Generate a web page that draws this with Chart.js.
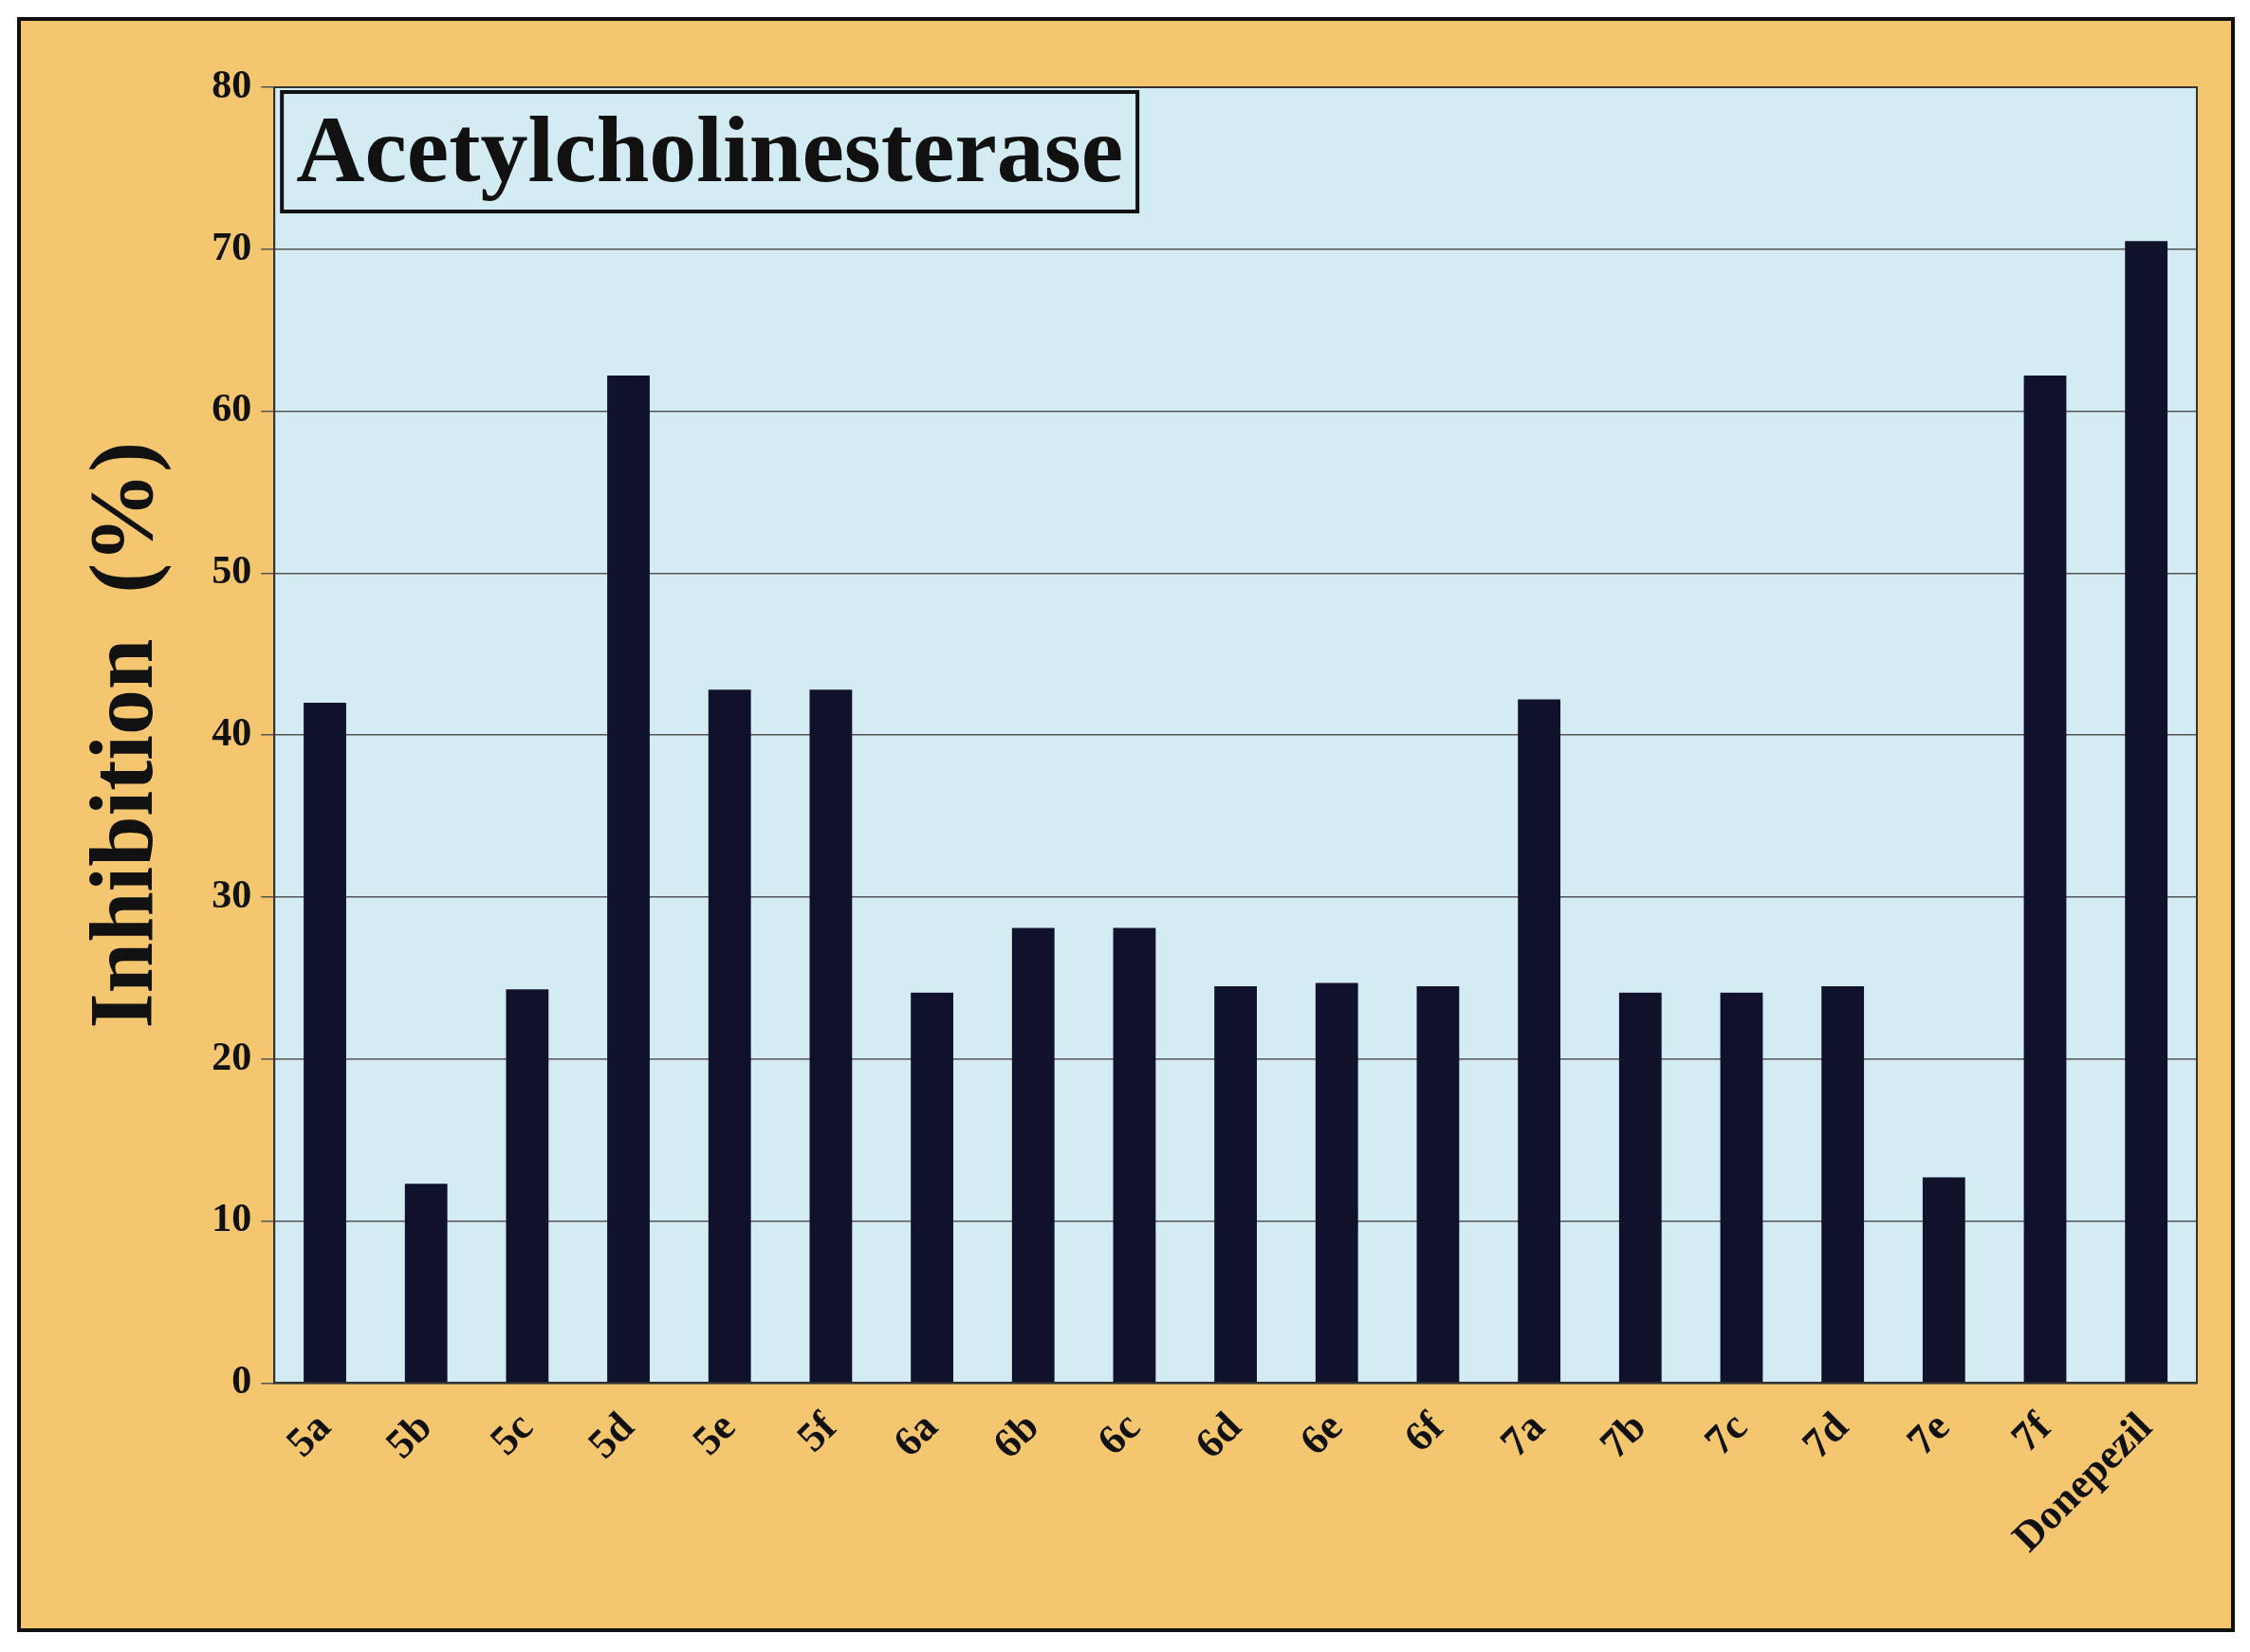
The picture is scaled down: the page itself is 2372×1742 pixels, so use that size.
<!DOCTYPE html>
<html><head><meta charset="utf-8">
<script src="https://cdn.jsdelivr.net/npm/chart.js@4"></script>
<style>
html,body{margin:0;padding:0;background:#fff;}
#wrap{position:absolute;left:18px;top:18px;width:2330px;height:1695px;border:4px solid #111;background:#f3c66f;}
</style></head>
<body>
<div id="wrap"><canvas id="myChart"></canvas></div>
<script>
const labels = ['5a','5b','5c','5d','5e','5f','6a','6b','6c','6d','6e','6f','7a','7b','7c','7d','7e','7f','Donepezil'];
const inhibition = [42.0,12.3,24.3,62.2,42.8,42.8,24.1,28.1,28.1,24.5,24.7,24.5,42.2,24.1,24.1,24.5,12.7,62.2,70.5];
const yTicks = [0,10,20,30,40,50,60,70,80];

const ctx = document.getElementById("myChart");
ctx.width = 2330; ctx.height = 1695;

const decor = {
    id: 'decor',
    beforeDraw(chart) {
        const {ctx, chartArea: a} = chart;
        ctx.save();
        ctx.fillStyle = '#d3ebf3';
        ctx.fillRect(a.left, a.top, a.right - a.left, a.bottom - a.top);
        ctx.restore();
    },
    afterDraw(chart) {
        const {ctx, chartArea: a} = chart;
        ctx.save();
        ctx.strokeStyle = '#333';
        ctx.lineWidth = 2;
        ctx.strokeRect(a.left, a.top, a.right - a.left, a.bottom - a.top);
        // title box
        ctx.font = 'bold 100px "Liberation Serif"';
        const txt = 'Acetylcholinesterase';
        const w = ctx.measureText(txt).width;
        const x = a.left + 8, y = a.top + 5;
        ctx.fillStyle = '#d3ebf3';
        ctx.fillRect(x, y, w + 30, 126);
        ctx.strokeStyle = '#111';
        ctx.lineWidth = 4;
        ctx.strokeRect(x, y, w + 30, 126);
        ctx.fillStyle = '#111';
        ctx.textBaseline = 'middle';
        ctx.fillText(txt, x + 15, y + 68);
        ctx.restore();
    }
};

const config = {
    type: 'bar',
    data: {
        labels,
        datasets: [{
            data: inhibition,
            backgroundColor: '#10112a',
            barPercentage: 0.42,
            categoryPercentage: 1.0
        }]
    },
    options: {
        responsive: false,
        animation: false,
        layout: {padding: {top: 70, right: 36, left: 52, bottom: 54}},
        plugins: {legend: {display: false}, tooltip: {enabled: false}},
        scales: {
            x: {
                grid: {display: false, drawOnChartArea: false},
                border: {color: '#333', width: 2},
                ticks: {color: '#111', maxRotation: 45, minRotation: 45, padding: 14,
                        font: {family: 'Liberation Serif', weight: 'bold', size: 44}}
            },
            y: {
                min: 0, max: 80,
                afterBuildTicks(axis) { axis.ticks = yTicks.map(v => ({value: v})); },
                grid: {color: '#555', lineWidth: 1.5, tickLength: 14},
                border: {color: '#333', width: 2},
                ticks: {color: '#111', padding: 10, font: {family: 'Liberation Serif', weight: 'bold', size: 42}},
                title: {display: true, text: 'Inhibition  (%)', color: '#111', padding: {bottom: 20},
                        font: {family: 'Liberation Serif', weight: 'bold', size: 96}}
            }
        }
    },
    plugins: [decor]
};

const myChart = new Chart(ctx, config);
</script>
</body></html>
